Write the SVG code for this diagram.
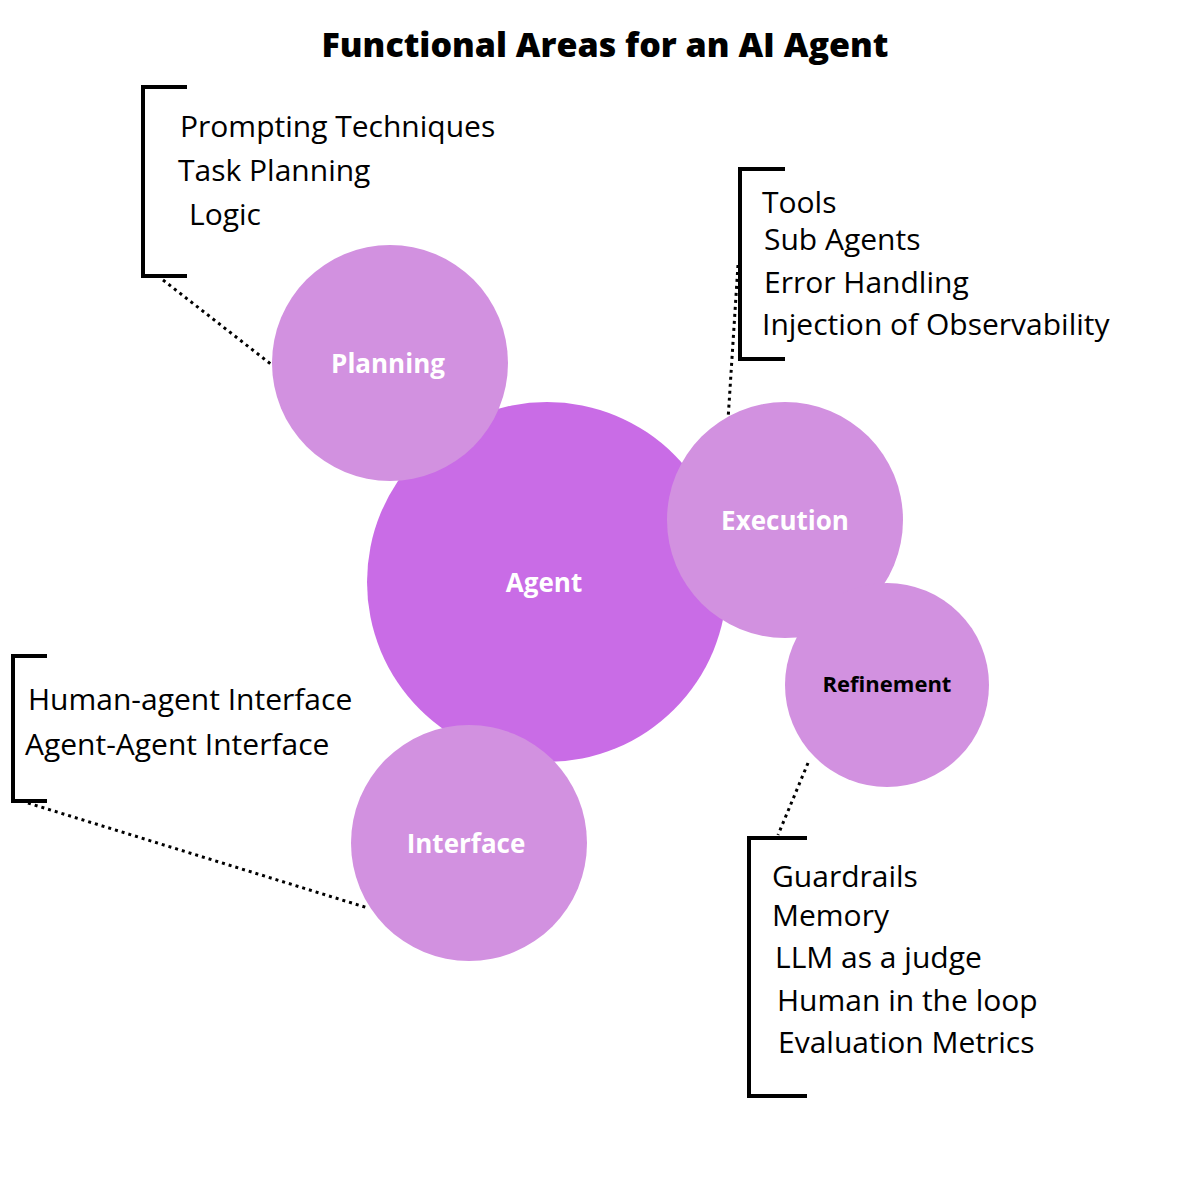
<svg xmlns="http://www.w3.org/2000/svg" width="1200" height="1200" viewBox="0 0 1200 1200">
<style>
.t{font-family:"Open Sans","Liberation Sans",sans-serif;font-size:30px;fill:#000}
.c{font-family:"Open Sans","Liberation Sans",sans-serif;font-size:26px;font-weight:700;fill:#fff;text-anchor:middle}
.br{fill:none;stroke:#000;stroke-width:4}
.dot{stroke:#000;stroke-width:3;stroke-dasharray:3 4;fill:none}
.s{fill:#d291e0}
</style>
<rect width="1200" height="1200" fill="#fff"/>
<text x="605" y="57" text-anchor="middle" style="font-family:'Open Sans','Liberation Sans',sans-serif;font-size:34px;font-weight:800">Functional Areas for an AI Agent</text>
<g id="connectors">
<path class="dot" d="M163 280 L272 365"/>
<path class="dot" d="M738 265 L728 420"/>
<path class="dot" d="M28 803 L368 908"/>
<path class="dot" d="M808 763 L778 835"/>
</g>
<g id="agent"><circle cx="547" cy="582" r="180" fill="#c96ce6"/><text class="c" x="544" y="592">Agent</text></g>
<g id="planning"><circle class="s" cx="390" cy="363" r="118"/><text class="c" x="388" y="373">Planning</text></g>
<g id="execution"><circle class="s" cx="785" cy="520" r="118"/><text class="c" x="785" y="530">Execution</text></g>
<g id="refinement"><circle class="s" cx="887" cy="685" r="102"/><text class="c" x="887" y="692" style="fill:#000;font-size:22px">Refinement</text></g>
<g id="interface"><circle class="s" cx="469" cy="843" r="118"/><text class="c" x="466" y="853">Interface</text></g>
<g id="planning-list">
<path class="br" d="M187 87 H143 V276 H187"/>
<text class="t" x="180" y="137">Prompting Techniques</text>
<text class="t" x="178" y="181">Task Planning</text>
<text class="t" x="189" y="225">Logic</text>
</g>
<g id="execution-list">
<path class="br" d="M785 169 H740 V359 H785"/>
<text class="t" x="762" y="213">Tools</text>
<text class="t" x="764" y="250">Sub Agents</text>
<text class="t" x="764" y="293">Error Handling</text>
<text class="t" x="762" y="335">Injection of Observability</text>
</g>
<g id="interface-list">
<path class="br" d="M47 656 H13 V801 H47"/>
<text class="t" x="28" y="710">Human-agent Interface</text>
<text class="t" x="25" y="755">Agent-Agent Interface</text>
</g>
<g id="refinement-list">
<path class="br" d="M807 838 H749 V1096 H807"/>
<text class="t" x="772" y="887">Guardrails</text>
<text class="t" x="772" y="926">Memory</text>
<text class="t" x="775" y="968">LLM as a judge</text>
<text class="t" x="777" y="1011">Human in the loop</text>
<text class="t" x="778" y="1053">Evaluation Metrics</text>
</g>
</svg>
